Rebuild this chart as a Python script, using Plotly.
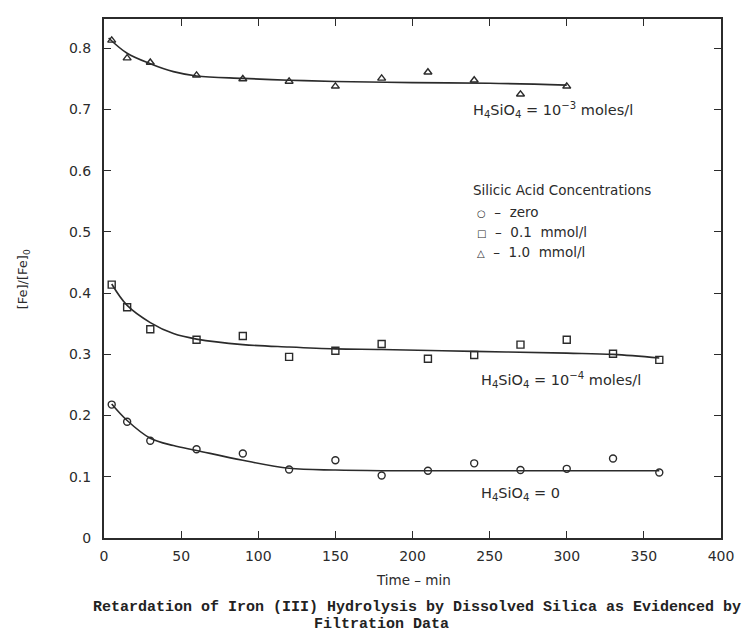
import plotly.graph_objects as go

# ---- data ----
# zero silicic acid (circles)
zero_t = [5, 15, 30, 60, 90, 120, 150, 180, 210, 240, 270, 300, 330, 360]
zero_v = [0.218, 0.190, 0.159, 0.145, 0.138, 0.112, 0.127, 0.102, 0.110, 0.122, 0.111, 0.113, 0.130, 0.107]

# 0.1 mmol/l (squares)
low_t = [5, 15, 30, 60, 90, 120, 150, 180, 210, 240, 270, 300, 330, 360]
low_v = [0.414, 0.377, 0.341, 0.324, 0.330, 0.296, 0.306, 0.317, 0.293, 0.299, 0.316, 0.324, 0.301, 0.291]

# 1.0 mmol/l (triangles)
high_t = [5, 15, 30, 60, 90, 120, 150, 180, 210, 240, 270, 300]
high_v = [0.813, 0.784, 0.777, 0.756, 0.750, 0.746, 0.738, 0.751, 0.761, 0.748, 0.725, 0.738]

# hand-drawn fitted curves
zero_curve_t = [5, 15, 30, 45, 60, 90, 120, 150, 180, 240, 300, 360]
zero_curve_v = [0.219, 0.192, 0.163, 0.151, 0.143, 0.127, 0.114, 0.111, 0.110, 0.110, 0.110, 0.110]

low_curve_t = [5, 15, 30, 45, 60, 90, 120, 150, 180, 240, 300, 330, 360]
low_curve_v = [0.415, 0.380, 0.352, 0.334, 0.325, 0.316, 0.312, 0.309, 0.308, 0.305, 0.302, 0.300, 0.294]

high_curve_t = [3, 15, 30, 45, 60, 90, 120, 150, 200, 250, 300]
high_curve_v = [0.817, 0.792, 0.775, 0.762, 0.755, 0.751, 0.748, 0.746, 0.744, 0.743, 0.740]

x_ticks = [0, 50, 100, 150, 200, 250, 300, 350, 400]
y_ticks = [0, 0.1, 0.2, 0.3, 0.4, 0.5, 0.6, 0.7, 0.8]
y_tick_text = ["0", "0.1", "0.2", "0.3", "0.4", "0.5", "0.6", "0.7", "0.8"]

INK = "#2b2b2b"
SANS = "DejaVu Sans"

fig = go.Figure()

for ct, cv in [(zero_curve_t, zero_curve_v), (low_curve_t, low_curve_v), (high_curve_t, high_curve_v)]:
    fig.add_trace(go.Scatter(x=ct, y=cv, mode="lines",
                             line=dict(color=INK, width=1.6, shape="spline", smoothing=1.0),
                             hoverinfo="skip", showlegend=False))

for t, v, sym in [(zero_t, zero_v, "circle-open"), (low_t, low_v, "square-open"), (high_t, high_v, "triangle-up-open")]:
    fig.add_trace(go.Scatter(x=t, y=v, mode="markers",
                             marker=dict(symbol=sym, size=7, color=INK, line=dict(width=1.4, color=INK)),
                             showlegend=False))

L, R, T, B = 104, 15, 19, 94
PW, PH = 746 - L - R, 632 - T - B


def px(xpix):
    return (xpix - L) / PW


def py(ypix):
    return (632 - B - ypix) / PH


ann = []
lab_font = dict(family=SANS, size=14.5, color=INK)
ann.append(dict(x=238, y=0.70, xref="x", yref="y", xanchor="left", yanchor="middle", showarrow=False,
                text="H<sub>4</sub>SiO<sub>4</sub> = 10<sup>−3</sup> moles/l", font=lab_font))
ann.append(dict(x=243, y=0.258, xref="x", yref="y", xanchor="left", yanchor="middle", showarrow=False,
                text="H<sub>4</sub>SiO<sub>4</sub> = 10<sup>−4</sup> moles/l", font=lab_font))
ann.append(dict(x=243, y=0.072, xref="x", yref="y", xanchor="left", yanchor="middle", showarrow=False,
                text="H<sub>4</sub>SiO<sub>4</sub> = 0", font=lab_font))

leg_font = dict(family=SANS, size=13.5, color=INK)
ann.append(dict(x=px(477), y=py(190), xref="paper", yref="paper", xanchor="left", yanchor="middle",
                showarrow=False, text="Silicic Acid Concentrations", font=leg_font))
for row_y, txt in [(212, "<span style='font-size:10px'>○</span>  –  zero"),
                   (232, "<span style='font-size:10px'>□</span>  –  0.1  mmol/l"),
                   (252, "<span style='font-size:10px'>△</span>  –  1.0  mmol/l")]:
    ann.append(dict(x=px(481), y=py(row_y), xref="paper", yref="paper", xanchor="left", yanchor="middle",
                    showarrow=False, text=txt, font=leg_font))

ann.append(dict(x=px(419), y=py(580), xref="paper", yref="paper", xanchor="center", yanchor="middle",
                showarrow=False, text="Time – min", font=dict(family=SANS, size=13.5, color=INK)))
ann.append(dict(x=px(22), y=py(279), xref="paper", yref="paper", xanchor="center", yanchor="middle",
                showarrow=False, textangle=-90, text="[Fe]/[Fe]<sub>0</sub>",
                font=dict(family=SANS, size=13, color=INK)))

cap_font = dict(family="Liberation Mono", size=15, color="#222222")
ann.append(dict(x=px(422), y=py(607), xref="paper", yref="paper", xanchor="center", yanchor="middle",
                showarrow=False, font=cap_font,
                text="<b>Retardation of Iron (III) Hydrolysis by Dissolved Silica as Evidenced by</b>"))
ann.append(dict(x=px(386), y=py(624), xref="paper", yref="paper", xanchor="center", yanchor="middle",
                showarrow=False, font=cap_font, text="<b>Filtration Data</b>"))

fig.update_layout(
    width=746, height=632,
    margin=dict(l=L, r=R, t=T, b=B),
    paper_bgcolor="white", plot_bgcolor="white",
    annotations=ann,
    showlegend=False,
)

fig.update_xaxes(range=[0, 400], tickvals=x_ticks, ticktext=[str(v) for v in x_ticks],
                 showline=True, linecolor=INK, linewidth=2, mirror="ticks",
                 ticks="inside", ticklen=7, tickwidth=1.3, tickcolor=INK,
                 showgrid=False, zeroline=False,
                 tickfont=dict(family=SANS, size=14, color=INK), ticklabelstandoff=4)
fig.update_yaxes(range=[0, 0.848], tickvals=y_ticks, ticktext=y_tick_text,
                 showline=True, linecolor=INK, linewidth=2, mirror="ticks",
                 ticks="inside", ticklen=7, tickwidth=1.3, tickcolor=INK,
                 showgrid=False, zeroline=False,
                 tickfont=dict(family=SANS, size=14, color=INK), ticklabelstandoff=8)

fig.write_html("out.html")
